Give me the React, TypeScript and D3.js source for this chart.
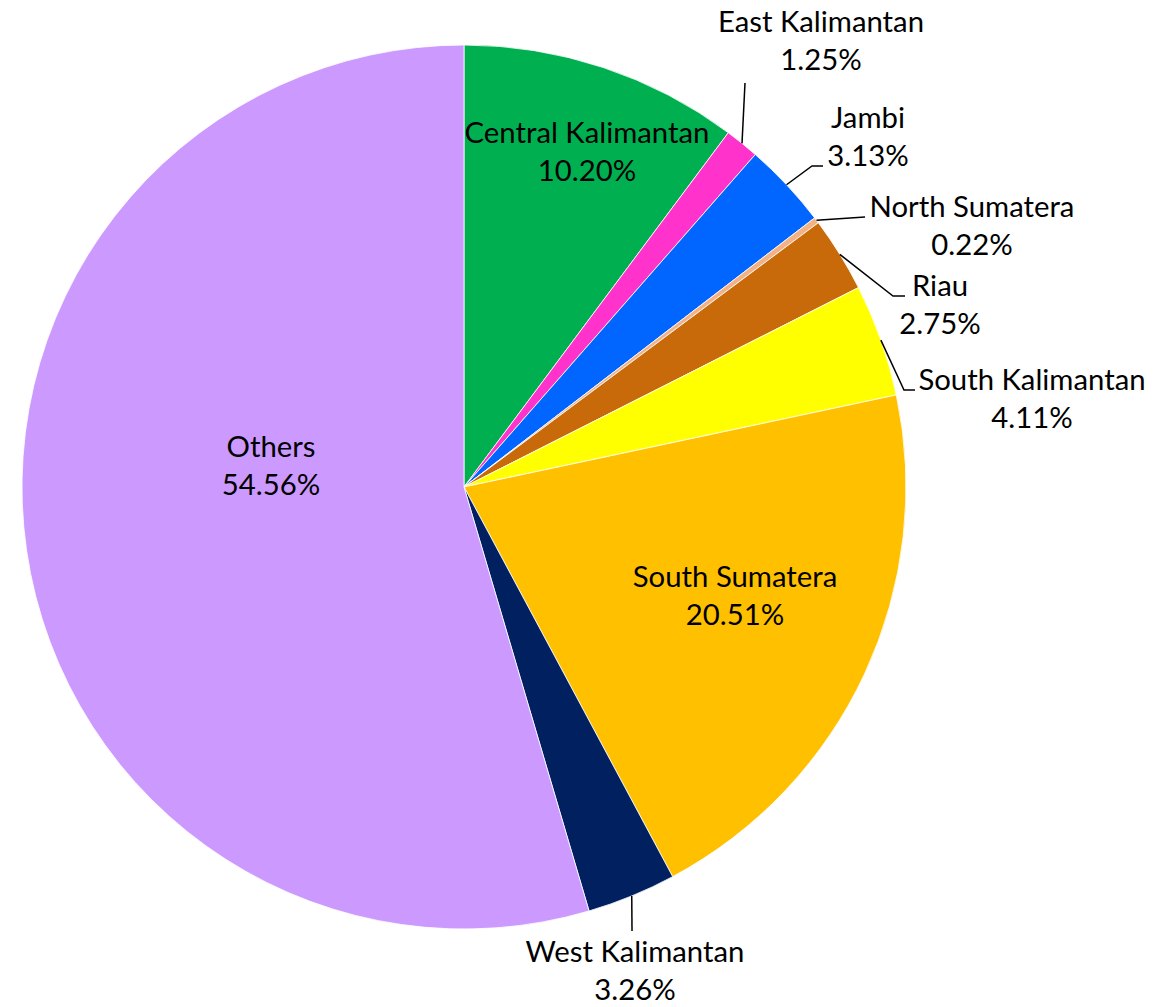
import React from "react";
import * as d3 from "d3";

const categories = [
  "Central Kalimantan",
  "East Kalimantan",
  "Jambi",
  "North Sumatera",
  "Riau",
  "South Kalimantan",
  "South Sumatera",
  "West Kalimantan",
  "Others",
];
const values = [10.2, 1.25, 3.13, 0.22, 2.75, 4.11, 20.51, 3.26, 54.56];
const valueLabels = ["10.20%", "1.25%", "3.13%", "0.22%", "2.75%", "4.11%", "20.51%", "3.26%", "54.56%"];
const colors = ["#00B050", "#FF33CC", "#0066FF", "#F4B183", "#C8690A", "#FFFF00", "#FFC000", "#002060", "#CC99FF"];

// label layout: text anchor (center x, first baseline y); leader: elbow points (null = inside label)
const labelPos: [number, number][] = [
  [587, 143],
  [821, 32],
  [868, 128],
  [972, 217],
  [940, 296],
  [1032, 390],
  [735, 587],
  [635, 962],
  [271, 457],
];
const leaders: ([number, number][] | null)[] = [
  null,
  [[745, 83]],
  [[812, 166], [823, 166]],
  [[865, 217]],
  [[893, 296], [905, 296]],
  [[904, 390], [915, 390]],
  null,
  [[632, 931]],
  null,
];

const W = 1174;
const H = 1007;
const cx = 464;
const cy = 487;
const R = 442;

export default function App() {
  const pie = d3.pie<number>().sort(null).value((d) => d);
  const arcs = pie(values);
  const arc = d3.arc<d3.PieArcDatum<number>>().innerRadius(0).outerRadius(R);
  const fontSize = 29.3;
  const lineGap = 38;
  return (
    <svg width={W} height={H} style={{ position: "absolute", left: 0, top: 0, background: "#fff" }}>
      <g transform={`translate(${cx},${cy})`}>
        {arcs.map((a, i) => (
          <path key={i} d={arc(a) || ""} fill={colors[i]} stroke="#fff" strokeWidth={0.8} />
        ))}
      </g>
      {arcs.map((a, i) => {
        const pts = leaders[i];
        if (!pts) return null;
        const mid = (a.startAngle + a.endAngle) / 2;
        const sx = cx + R * Math.sin(mid);
        const sy = cy - R * Math.cos(mid);
        const all = [[sx, sy] as [number, number], ...pts];
        return (
          <path key={"l" + i} d={d3.line()(all) || ""} fill="none" stroke="#000" strokeWidth={1.5} />
        );
      })}
      {categories.map((c, i) => (
        <text
          key={"t" + i}
          x={labelPos[i][0]}
          y={labelPos[i][1]}
          textAnchor="middle"
          fontFamily="Lato, 'Noto Sans', sans-serif"
          fontSize={fontSize}
          fill="#000"
        >
          <tspan x={labelPos[i][0]} y={labelPos[i][1]}>{c}</tspan>
          <tspan x={labelPos[i][0]} y={labelPos[i][1] + lineGap}>{valueLabels[i]}</tspan>
        </text>
      ))}
    </svg>
  );
}
